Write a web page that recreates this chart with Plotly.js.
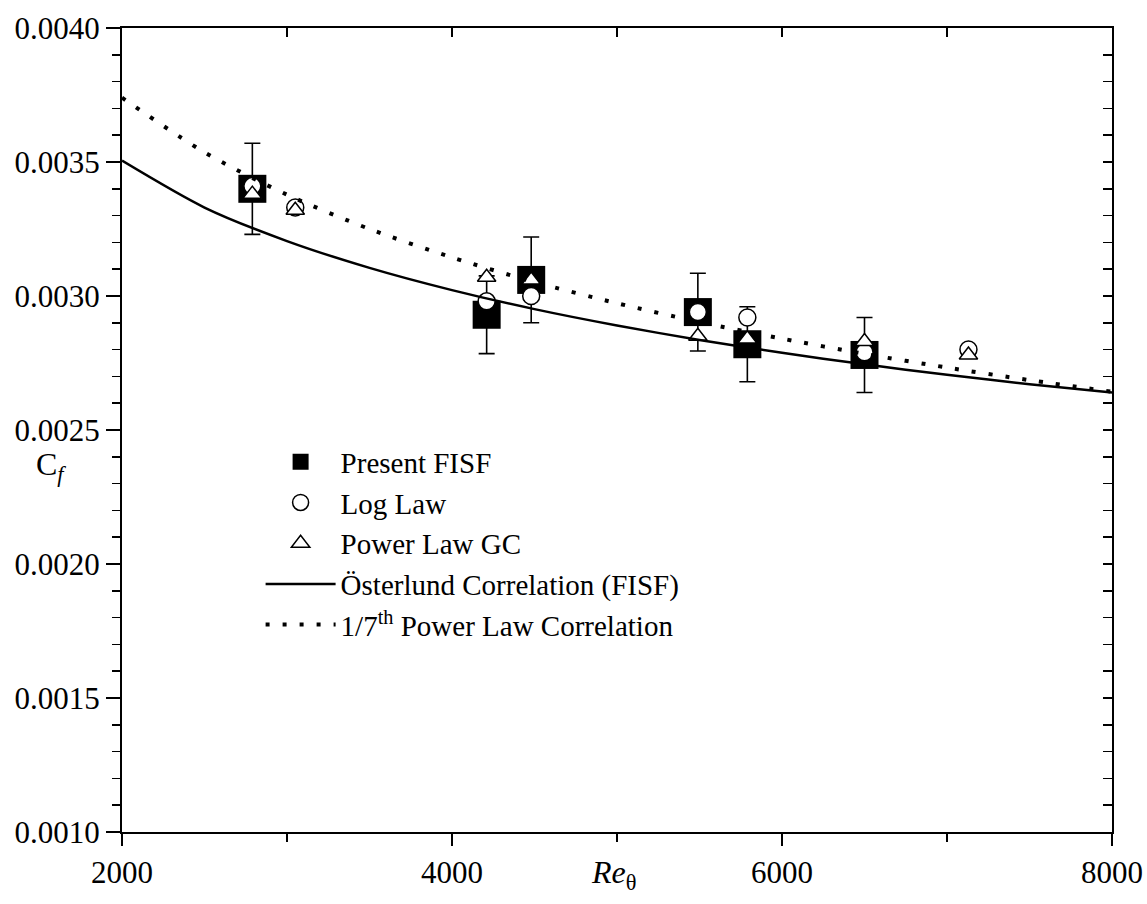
<!DOCTYPE html>
<html>
<head>
<meta charset="utf-8">
<script src="https://cdn.plot.ly/plotly-3.0.1.min.js"></script>
<style>
  html, body { margin: 0; padding: 0; background: #fff; }
  #chart { width: 1147px; height: 904px; }
</style>
</head>
<body>
<div id="chart"></div>
<script>
// ---- Data ----
const reFISF   = [2790, 4210, 4480, 5490, 5790, 6500];
const cfFISF   = [0.00340, 0.00293, 0.00306, 0.00294, 0.00282, 0.00278];
const errFISF  = [0.00017, 0.000145, 0.00016, 0.000145, 0.00014, 0.00014];

const reLaw    = [2790, 3050, 4210, 4480, 5490, 5790, 6500, 7130];
const cfLogLaw = [0.00341, 0.00333, 0.00298, 0.00300, 0.00294, 0.00292, 0.00279, 0.00280];
const cfPowGC  = [0.00338, 0.00332, 0.00307, 0.00306, 0.00285, 0.00284, 0.00283, 0.00278];

const reCurve     = [2000, 2500, 3000, 3500, 4000, 4500, 5000, 5500, 6000, 6500, 7000, 7500, 8000];
const cfOsterlund = [0.003505, 0.003330, 0.003205, 0.003105, 0.003022, 0.002951, 0.002890, 0.002836, 0.002788, 0.002745, 0.002706, 0.002671, 0.002640];
const cfSeventh   = [0.003740, 0.003536, 0.003378, 0.003250, 0.003144, 0.003052, 0.002973, 0.002903, 0.002841, 0.002784, 0.002733, 0.002686, 0.002643];

const seriesNames = ['Present FISF', 'Log Law', 'Power Law GC',
                     'Österlund Correlation (FISF)', '1/7<sup>th</sup> Power Law Correlation'];
const yTickVals = [0.0010, 0.0015, 0.0020, 0.0025, 0.0030, 0.0035, 0.0040];
const xTickVals = [2000, 4000, 6000, 8000];

const FONT = '"Liberation Serif", "Times New Roman", Times, serif';

const traces = [
  {
    x: reFISF, y: cfFISF, name: seriesNames[0], mode: 'markers', type: 'scatter',
    marker: { symbol: 'square', size: 28, color: '#000' },
    error_y: { type: 'data', array: errFISF, visible: true, color: '#000', thickness: 1.6, width: 8 }
  },
  {
    x: reLaw, y: cfLogLaw, name: seriesNames[1], mode: 'markers', type: 'scatter',
    marker: { symbol: 'circle', size: 17, color: '#fff', line: { color: '#000', width: 1.5 } }
  },
  {
    x: reLaw, y: cfPowGC, name: seriesNames[2], mode: 'markers', type: 'scatter',
    marker: { symbol: 'triangle-up', size: 16, color: '#fff', line: { color: '#000', width: 1.5 } }
  },
  {
    x: reCurve, y: cfOsterlund, name: seriesNames[3], mode: 'lines', type: 'scatter',
    line: { color: '#000', width: 2.5, shape: 'spline', smoothing: 0.8 }
  },
  {
    x: reCurve, y: cfSeventh, name: seriesNames[4], mode: 'lines', type: 'scatter',
    line: { color: '#000', width: 4, dash: '4px,13px', shape: 'spline', smoothing: 0.8 }
  },
  {
    x: [reCurve[0]], y: [yTickVals[0]], xaxis: 'x2', yaxis: 'y2', mode: 'markers',
    marker: { opacity: 0 }, showlegend: false, hoverinfo: 'skip', type: 'scatter'
  }
];

const layout = {
  width: 1147, height: 904,
  margin: { l: 122, r: 35, t: 28, b: 72 },
  paper_bgcolor: '#fff', plot_bgcolor: '#fff',
  font: { family: FONT, size: 30, color: '#000' },
  showlegend: true,
  legend: {
    x: 0.14, y: 0.492, xanchor: 'left', yanchor: 'top',
    bgcolor: 'rgba(0,0,0,0)', borderwidth: 0,
    font: { family: FONT, size: 29, color: '#000' },
    itemwidth: 70, tracegroupgap: 0
  },
  xaxis: {
    range: [2000, 8000], tickvals: xTickVals, ticktext: xTickVals.map(String),
    ticks: 'outside', ticklen: 12, tickwidth: 1.5, tickcolor: '#000',
    showline: true, linecolor: '#000', linewidth: 2, showgrid: false, zeroline: false,
    tickfont: { family: FONT, size: 31 },
    minor: { dtick: 1000, tick0: 2000, ticks: 'outside', ticklen: 8, tickwidth: 1.5, tickcolor: '#000', showgrid: false }
  },
  yaxis: {
    range: [0.0010, 0.0040], tickvals: yTickVals, ticktext: yTickVals.map(v => v.toFixed(4)),
    ticks: 'outside', ticklen: 14, tickwidth: 1.5, tickcolor: '#000',
    showline: true, linecolor: '#000', linewidth: 2, showgrid: false, zeroline: false,
    tickfont: { family: FONT, size: 31 },
    minor: { dtick: 0.0001, tick0: 0.0010, ticks: 'outside', ticklen: 8, tickwidth: 1.5, tickcolor: '#000', showgrid: false }
  },
  xaxis2: {
    overlaying: 'x', side: 'top', anchor: 'y2', range: [2000, 8000],
    dtick: 1000, tick0: 2000, ticks: 'inside', ticklen: 9, tickwidth: 1.5, tickcolor: '#000',
    showticklabels: false, showline: true, linecolor: '#000', linewidth: 2,
    showgrid: false, zeroline: false
  },
  yaxis2: {
    overlaying: 'y', side: 'right', anchor: 'x2', range: [0.0010, 0.0040],
    dtick: 0.0001, tick0: 0.0010, ticks: 'inside', ticklen: 9, tickwidth: 1.5, tickcolor: '#000',
    showticklabels: false, showline: true, linecolor: '#000', linewidth: 2,
    showgrid: false, zeroline: false
  },
  annotations: [
    { text: 'C<sub><i>f</i></sub>', xref: 'paper', yref: 'paper', x: -0.072, y: 0.455,
      xanchor: 'center', yanchor: 'middle', showarrow: false, font: { family: FONT, size: 32 } },
    { text: '<i>Re</i><sub>θ</sub>', xref: 'paper', yref: 'paper', x: 0.496, y: -0.053,
      xanchor: 'center', yanchor: 'middle', showarrow: false, font: { family: FONT, size: 32 } }
  ]
};

Plotly.newPlot('chart', traces, layout, { displayModeBar: false, staticPlot: true });
</script>
</body>
</html>
